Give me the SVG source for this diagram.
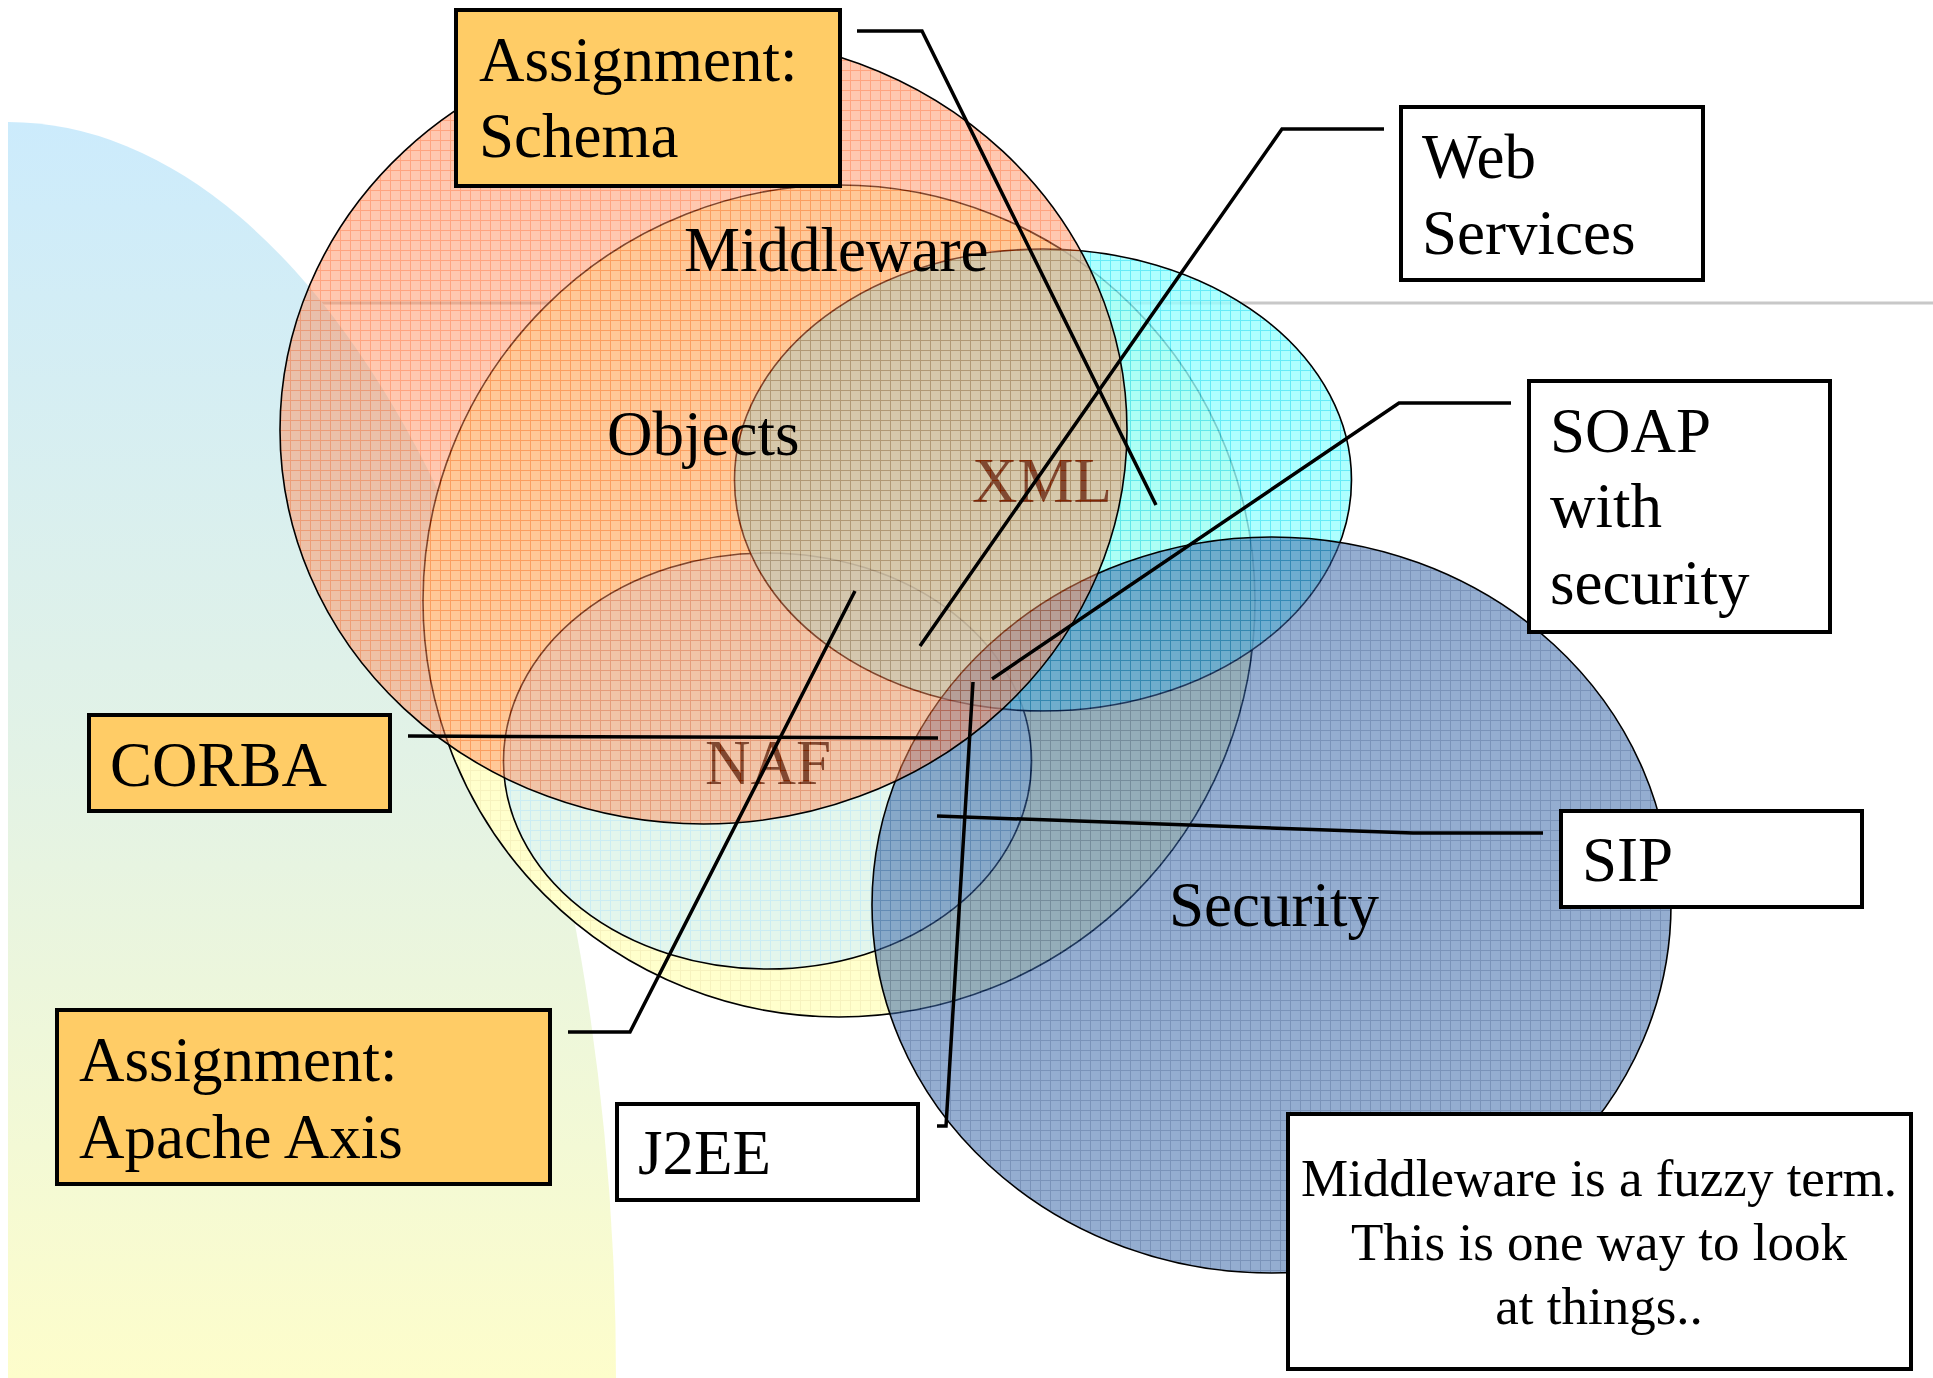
<svg xmlns="http://www.w3.org/2000/svg" width="1933" height="1378" viewBox="0 0 1933 1378">
<style>
.lbl{font-family:"Liberation Serif","Times New Roman",serif;font-size:63px;fill:#000}
.note{font-family:"Liberation Serif","Times New Roman",serif;font-size:53px;fill:#000;text-anchor:middle}
.box{stroke:#000;stroke-width:4}
.orange{fill:#FFCC66}
.white{fill:#FFFFFF}
.conn{fill:none;stroke:#000;stroke-width:3.5;stroke-linejoin:miter}
.edge{fill:none;stroke:#000;stroke-width:1.6}
</style>
<defs>
<linearGradient id="bgGrad" x1="0" y1="122" x2="0" y2="1378" gradientUnits="userSpaceOnUse">
<stop offset="0" stop-color="#CCEBFC"/>
<stop offset="0.5" stop-color="#E2F2E6"/>
<stop offset="1" stop-color="#FDFDCB"/>
</linearGradient>
<pattern id="pPink" width="10" height="10" patternUnits="userSpaceOnUse">
<rect width="10" height="10" fill="#FF9161"/>
<path d="M0 0.5H10M0.5 0V10" stroke="#FF4A00" stroke-width="1"/>
</pattern>
<pattern id="pYellow" width="10" height="10" patternUnits="userSpaceOnUse">
<rect width="10" height="10" fill="#FFFFCC"/>
<path d="M0 0.5H10M0.5 0V10" stroke="#F6F2BE" stroke-width="1"/>
</pattern>
<pattern id="pNaf" width="10" height="10" patternUnits="userSpaceOnUse">
<rect width="10" height="10" fill="#E3F6EC"/>
<path d="M0 0.5H10M0.5 0V10" stroke="#CBEDF3" stroke-width="1"/>
</pattern>
<pattern id="pCyan" width="10" height="10" patternUnits="userSpaceOnUse">
<rect width="10" height="10" fill="#99FFFF"/>
<path d="M0 0.5H10M0.5 0V10" stroke="#3DE6F5" stroke-width="1"/>
</pattern>
<pattern id="pBlue" width="10" height="10" patternUnits="userSpaceOnUse">
<rect width="10" height="10" fill="#3C69AA"/>
<path d="M0 0.5H10M0.5 0V10" stroke="#0E3A80" stroke-width="1"/>
</pattern>
</defs>

<g id="background">
<line x1="300" y1="303" x2="1933" y2="303" stroke="#C8C8C8" stroke-width="3"/>
<path d="M 8 122 A 608 1256 0 0 1 616 1378 L 8 1378 Z" fill="url(#bgGrad)"/>
</g>

<g id="middleware">
<circle cx="839" cy="601" r="416" fill="url(#pYellow)"/>
<circle cx="839" cy="601" r="416" class="edge" stroke-width="1.3"/>
</g>
<g id="naf">
<ellipse cx="767.5" cy="761" rx="264" ry="208" fill="url(#pNaf)"/>
<ellipse cx="767.5" cy="761" rx="264" ry="208" class="edge" stroke-width="1.3"/>
</g>
<g id="xml">
<ellipse cx="1043" cy="480" rx="308.5" ry="231" fill="url(#pCyan)" opacity="0.8"/>
<ellipse cx="1043" cy="480" rx="308.5" ry="231" class="edge" stroke-width="1.3"/>
<text class="lbl" x="972" y="502">XML</text>
</g>
<g id="naf-label">
<text class="lbl" x="705" y="784">NAF</text>
</g>
<g id="security">
<ellipse cx="1271.5" cy="905" rx="399.5" ry="368" fill="url(#pBlue)" opacity="0.55"/>
<ellipse cx="1271.5" cy="905" rx="399.5" ry="368" class="edge"/>
</g>
<g id="objects">
<ellipse cx="703.5" cy="430" rx="423.5" ry="394" fill="url(#pPink)" opacity="0.5"/>
<ellipse cx="703.5" cy="430" rx="423.5" ry="394" class="edge" stroke-width="2"/>
</g>

<g id="labels">
<text class="lbl" x="684" y="271">Middleware</text>
<text class="lbl" x="607" y="455">Objects</text>
<text class="lbl" x="1169" y="926">Security</text>
</g>

<g id="connectors">
<path class="conn" d="M 857 31 H 922 L 1156 505"/>
<path class="conn" d="M 1384 129 H 1282 L 920 646"/>
<path class="conn" d="M 1511 403 H 1399 L 992 679"/>
<path class="conn" d="M 408 736 L 938 738"/>
<path class="conn" d="M 1543 833 H 1413 L 937 816"/>
<path class="conn" d="M 937 1126 H 946 L 973 682"/>
<path class="conn" d="M 568 1032 H 630 L 855 591"/>
</g>

<g id="box-schema">
<rect class="box orange" x="456" y="10" width="384" height="176"/>
<text class="lbl" x="479" y="81">Assignment:</text>
<text class="lbl" x="479" y="157">Schema</text>
</g>
<g id="box-webservices">
<rect class="box white" x="1401" y="107" width="302" height="173"/>
<text class="lbl" x="1422" y="178">Web</text>
<text class="lbl" x="1422" y="254">Services</text>
</g>
<g id="box-soap">
<rect class="box white" x="1529" y="381" width="301" height="251"/>
<text class="lbl" x="1550" y="452">SOAP</text>
<text class="lbl" x="1550" y="527">with</text>
<text class="lbl" x="1550" y="604">security</text>
</g>
<g id="box-corba">
<rect class="box orange" x="89" y="715" width="301" height="96"/>
<text class="lbl" x="110" y="786">CORBA</text>
</g>
<g id="box-axis">
<rect class="box orange" x="57" y="1010" width="493" height="174"/>
<text class="lbl" x="79" y="1081">Assignment:</text>
<text class="lbl" x="79" y="1158">Apache Axis</text>
</g>
<g id="box-j2ee">
<rect class="box white" x="617" y="1104" width="301" height="96"/>
<text class="lbl" x="638" y="1174">J2EE</text>
</g>
<g id="box-sip">
<rect class="box white" x="1561" y="811" width="301" height="96"/>
<text class="lbl" x="1582" y="881">SIP</text>
</g>
<g id="box-note">
<rect class="box white" x="1288" y="1114" width="623" height="255"/>
<text class="note" x="1599" y="1196">Middleware is a fuzzy term.</text>
<text class="note" x="1599" y="1260">This is one way to look</text>
<text class="note" x="1599" y="1324">at things..</text>
</g>
</svg>
